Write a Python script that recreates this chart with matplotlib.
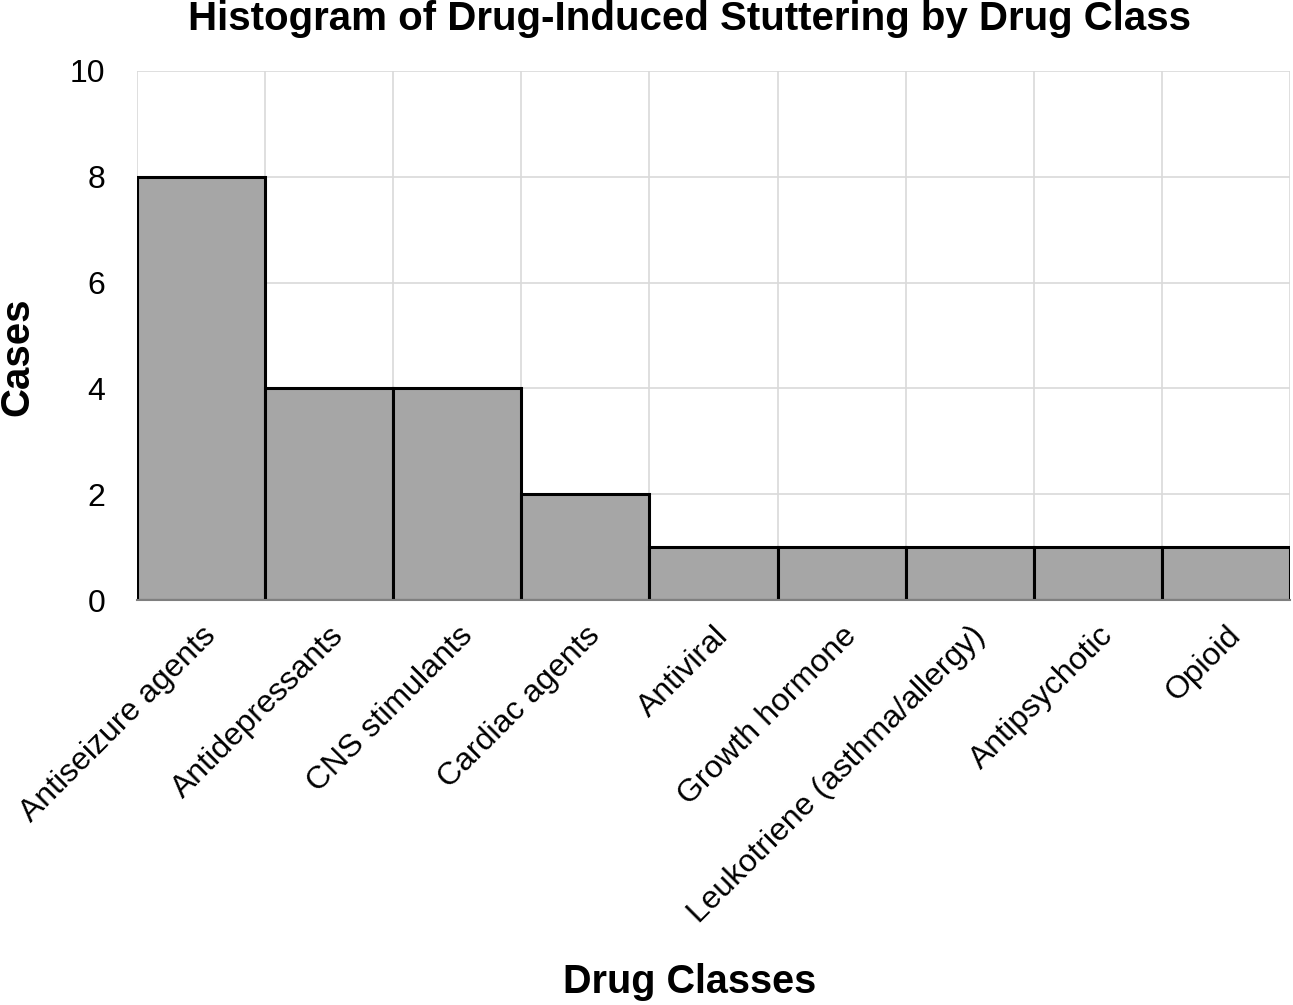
import matplotlib
matplotlib.use("Agg")
import matplotlib.pyplot as plt
import numpy as np

categories = ["Antiseizure agents", "Antidepressants", "CNS stimulants", "Cardiac agents",
              "Antiviral", "Growth hormone", "Leukotriene (asthma/allergy)", "Antipsychotic", "Opioid"]
cases = [8, 4, 4, 2, 1, 1, 1, 1, 1]
y_ticks = [0, 2, 4, 6, 8, 10]

plt.rcParams['font.family'] = ['Liberation Sans', 'DejaVu Sans']

fig = plt.figure(figsize=(12.93, 10.05), dpi=100)
ax = fig.add_axes([137/1293, 1 - 600/1005, (1290 - 137)/1293, (600 - 71)/1005])

x = np.arange(len(categories))
ax.bar(x, cases, width=1.0, color="#a6a6a6", edgecolor="black", linewidth=2.2, zorder=3)

ax.set_xlim(-0.5, len(categories) - 0.5)
ax.set_ylim(0, 10)
ax.set_yticks(y_ticks)
ax.set_yticklabels([str(v) for v in y_ticks], fontsize=23)
ax.set_xticks(x)
ax.set_xticklabels(categories, rotation=45, ha="right", rotation_mode="anchor", fontsize=23)
ax.set_xticks(np.arange(len(categories) + 1) - 0.5, minor=True)
ax.tick_params(axis="both", which="both", length=0)
ax.tick_params(axis="x", pad=15)
ax.tick_params(axis="y", pad=23)

ax.grid(True, axis="y", which="major", color="#d9d9d9", linewidth=1.2, zorder=0)
ax.grid(True, axis="x", which="minor", color="#d9d9d9", linewidth=1.2, zorder=0)
ax.grid(False, axis="x", which="major")

for s in ["top", "right", "left"]:
    ax.spines[s].set_visible(False)
ax.spines["bottom"].set_color("#7f7f7f")
ax.spines["bottom"].set_linewidth(1.5)
ax.spines["bottom"].set_zorder(4)

fig.text(17/1293, 1 - 357/1005, "Cases", fontsize=29, fontweight="bold", rotation=90,
         ha="center", va="center")
fig.text(690/1293, 1 - 982/1005, "Drug Classes", fontsize=28.5, fontweight="bold", ha="center", va="center")
fig.text(690/1293, 1 - 30/1005, "Histogram of Drug-Induced Stuttering by Drug Class",
         fontsize=29, fontweight="bold", ha="center", va="baseline")

fig.savefig("out.png", dpi=100)
